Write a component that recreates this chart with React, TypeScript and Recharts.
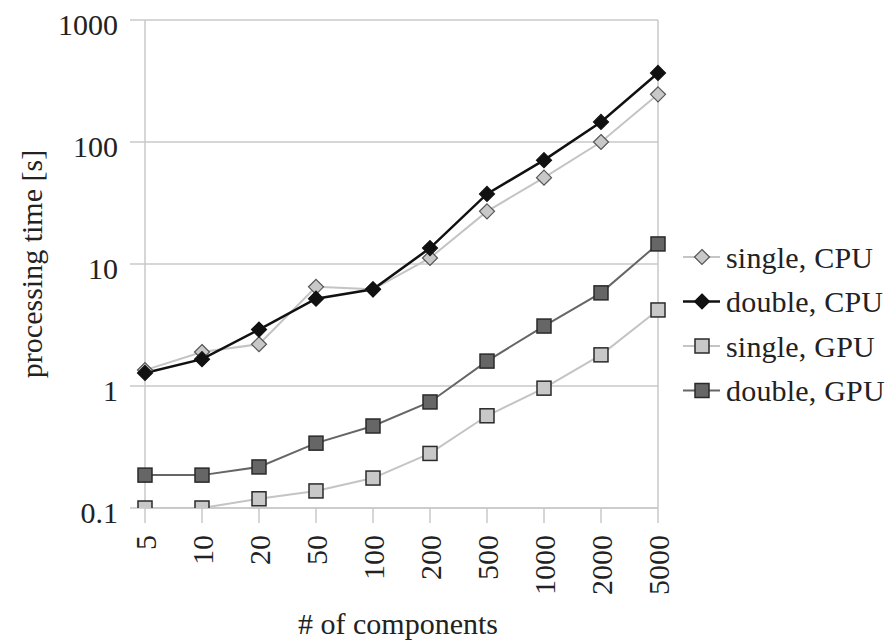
import React from 'react';
import {
  LineChart,
  Line,
  XAxis,
  YAxis,
  CartesianGrid,
  ReferenceLine,
  Label,
} from 'recharts';

const components = ['5', '10', '20', '50', '100', '200', '500', '1000', '2000', '5000'];
const singleCpu = [1.35, 1.9, 2.2, 6.5, 6.2, 11.2, 27, 51, 100, 246];
const doubleCpu = [1.28, 1.66, 2.9, 5.2, 6.2, 13.5, 37.5, 71, 146, 368];
const singleGpu = [0.1, 0.1, 0.119, 0.138, 0.176, 0.28, 0.57, 0.96, 1.8, 4.2];
const doubleGpu = [0.186, 0.186, 0.217, 0.34, 0.47, 0.74, 1.6, 3.1, 5.8, 14.6];
const yTicks = [0.1, 1, 10, 100, 1000];

const data = components.map((n, i) => ({
  n,
  singleCpu: singleCpu[i],
  doubleCpu: doubleCpu[i],
  singleGpu: singleGpu[i],
  doubleGpu: doubleGpu[i],
}));

const FONT = 'Liberation Serif';
const txt = { fontFamily: FONT, fontSize: 30 };
const GRID = '#c8c8c8';

const series = [
  { key: 'singleCpu', name: 'single, CPU', line: '#c4c4c4', fill: '#c8c8c8', stroke: '#555', width: 2, shape: 'diamond' },
  { key: 'doubleCpu', name: 'double, CPU', line: '#111', fill: '#111', stroke: '#111', width: 2.5, shape: 'diamond' },
  { key: 'singleGpu', name: 'single, GPU', line: '#c4c4c4', fill: '#c8c8c8', stroke: '#2a2a2a', width: 2, shape: 'square' },
  { key: 'doubleGpu', name: 'double, GPU', line: '#666', fill: '#666', stroke: '#2a2a2a', width: 2, shape: 'square' },
];

const marker = (shape: string, cx: number, cy: number, fill: string, stroke: string, key?: any) => {
  if (shape === 'diamond') {
    const r = 7.5;
    return (
      <path
        key={key}
        d={`M${cx},${cy - r}L${cx + r},${cy}L${cx},${cy + r}L${cx - r},${cy}Z`}
        fill={fill}
        stroke={stroke}
        strokeWidth={1.2}
      />
    );
  }
  const h = 7;
  return (
    <rect key={key} x={cx - h} y={cy - h} width={h * 2} height={h * 2} fill={fill} stroke={stroke} strokeWidth={1.5} />
  );
};

const XTick = (props: any) => {
  const { x, payload } = props;
  const y = 535;
  return (
    <text x={x} y={y} dy="0.35em" textAnchor="end" transform={`rotate(-90, ${x}, ${y})`} style={txt} fill="#222">
      {payload.value}
    </text>
  );
};

const YTick = (props: any) => {
  const { x, y, payload } = props;
  return (
    <text x={x} y={y + 4} dy="0.35em" textAnchor="end" style={txt} fill="#222">
      {String(payload.value)}
    </text>
  );
};

const Legend4 = () => (
  <svg width={890} height={644} style={{ position: 'absolute', left: 0, top: 0, pointerEvents: 'none' }}>
    {series.map((s, i) => {
      const cy = 257 + i * 44.5;
      return (
        <g key={s.key}>
          <line x1={683} x2={720} y1={cy} y2={cy} stroke={s.line} strokeWidth={s.width} />
          {marker(s.shape, 702, cy, s.fill, s.stroke)}
          <text x={726} y={cy} dy="0.35em" style={{ ...txt, letterSpacing: 0.2 }} fill="#222">
            {s.name}
          </text>
        </g>
      );
    })}
  </svg>
);

export default function App() {
  return (
    <div
      style={{
        position: 'absolute',
        left: 0,
        top: 0,
        width: 890,
        height: 644,
        background: '#fff',
        fontFamily: FONT,
      }}
    >
      <LineChart width={890} height={644} data={data} margin={{ top: 20, right: 232, bottom: 0, left: 0 }}>
        <CartesianGrid vertical={false} stroke={GRID} strokeWidth={1.5} />
        <ReferenceLine x="5000" stroke={GRID} strokeWidth={1.5} />
        <XAxis
          dataKey="n"
          scale="point"
          padding={{ left: 0, right: 0 }}
          height={136}
          interval={0}
          tickSize={15}
          axisLine={{ stroke: GRID, strokeWidth: 1.5 }}
          tickLine={{ stroke: GRID, strokeWidth: 1.5 }}
          tick={<XTick />}
        >
          <Label
            content={() => (
              <text x={398} y={634} textAnchor="middle" style={txt} fill="#222">
                # of components
              </text>
            )}
          />
        </XAxis>
        <YAxis
          type="number"
          scale="log"
          domain={[0.1, 1000]}
          ticks={yTicks}
          allowDataOverflow
          width={145}
          tickSize={15}
          tickMargin={12}
          axisLine={{ stroke: GRID, strokeWidth: 1.5 }}
          tickLine={{ stroke: GRID, strokeWidth: 1.5 }}
          tick={<YTick />}
        >
          <Label
            content={() => (
              <text x={42} y={264} textAnchor="middle" transform="rotate(-90, 42, 264)" style={txt} fill="#222">
                processing time [s]
              </text>
            )}
          />
        </YAxis>
        {series.map((s) => (
          <Line
            key={s.key}
            dataKey={s.key}
            name={s.name}
            type="linear"
            stroke={s.line}
            strokeWidth={s.width}
            isAnimationActive={false}
            dot={(p: any) => marker(s.shape, p.cx, p.cy, s.fill, s.stroke, `${s.key}-${p.index}`)}
            activeDot={false}
          />
        ))}
      </LineChart>
      <Legend4 />
    </div>
  );
}
